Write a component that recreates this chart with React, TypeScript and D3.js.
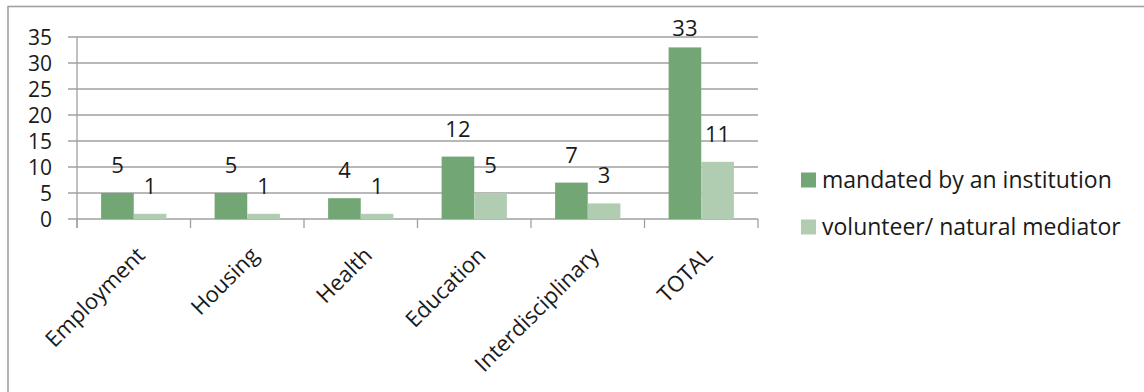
import React from "react";
import * as d3 from "d3";

const categories = ["Employment", "Housing", "Health", "Education", "Interdisciplinary", "TOTAL"];
const seriesNames = ["mandated by an institution", "volunteer/ natural mediator"];
const mandated = [5, 5, 4, 12, 7, 33];
const volunteer = [1, 1, 1, 5, 3, 11];
const yTicks = [0, 5, 10, 15, 20, 25, 30, 35];
const colors = ["#72a674", "#b0cdb1"];

const W = 1144;
const H = 392;
const FONT = "'Open Sans', sans-serif";

export default function App() {
  const x0 = d3.scaleBand<string>().domain(categories).range([77, 758]).paddingInner(0).paddingOuter(0);
  const bw = x0.bandwidth();
  const groupW = bw * 0.575;
  const x1 = d3.scaleBand<number>().domain([0, 1]).range([0, groupW]).padding(0);
  const y = d3.scaleLinear().domain([0, 35]).range([219, 37]);
  const series = [mandated, volunteer];
  const grid = "#a0a0a0";
  const fs = 22;

  return (
    <svg width={W} height={H} style={{ position: "absolute", left: 0, top: 0, background: "#fff" }} fontFamily={FONT}>
      <rect x={8} y={6.5} width={W + 20} height={H + 20} fill="#fff" stroke={grid} strokeWidth={1.6} />
      {yTicks.map((t) => (
        <g key={t}>
          <line x1={68} x2={758} y1={y(t)} y2={y(t)} stroke={grid} strokeWidth={1.3} />
          <text x={52} y={y(t)} dy="0.36em" textAnchor="end" fontSize={21} fill="#1a1a1a">{t}</text>
        </g>
      ))}
      <line x1={77} x2={77} y1={y(35)} y2={228} stroke={grid} strokeWidth={1.3} />
      {categories.map((c) => (
        <line key={"t" + c} x1={x0(c)!} x2={x0(c)!} y1={y(0)} y2={228} stroke={grid} strokeWidth={1.3} />
      ))}
      <line x1={758} x2={758} y1={y(0)} y2={228} stroke={grid} strokeWidth={1.3} />
      {series.map((vals, si) =>
        categories.map((c, ci) => {
          const bx = x0(c)! + (bw - groupW) / 2 + x1(si)!;
          return (
            <rect key={si + "-" + c} x={bx} y={y(vals[ci])} width={x1.bandwidth()} height={y(0) - y(vals[ci])} fill={colors[si]} />
          );
        })
      )}
      {series.map((vals, si) =>
        categories.map((c, ci) => {
          const bx = x0(c)! + (bw - groupW) / 2 + x1(si)! + x1.bandwidth() / 2;
          const ly = Math.max(y(vals[ci]) - 20, y(35) - 1.5);
          return (
            <text key={"l" + si + c} x={bx} y={ly} textAnchor="middle" fontSize={fs} fill="#1a1a1a">{vals[ci]}</text>
          );
        })
      )}
      {categories.map((c) => {
        const cx = x0(c)! + bw / 2;
        return (
          <text key={"x" + c} transform={`translate(${cx + 1},${245}) rotate(-45)`} dy="0.75em" textAnchor="end" fontSize={fs} fill="#1a1a1a">{c}</text>
        );
      })}
      {seriesNames.map((n, i) => (
        <g key={n} transform={`translate(801,${180 + i * 47})`}>
          <rect x={0} y={-7.5} width={15} height={15} fill={colors[i]} />
          <text x={21} y={0} dy="0.36em" fontSize={23} fill="#1a1a1a">{n}</text>
        </g>
      ))}
    </svg>
  );
}
